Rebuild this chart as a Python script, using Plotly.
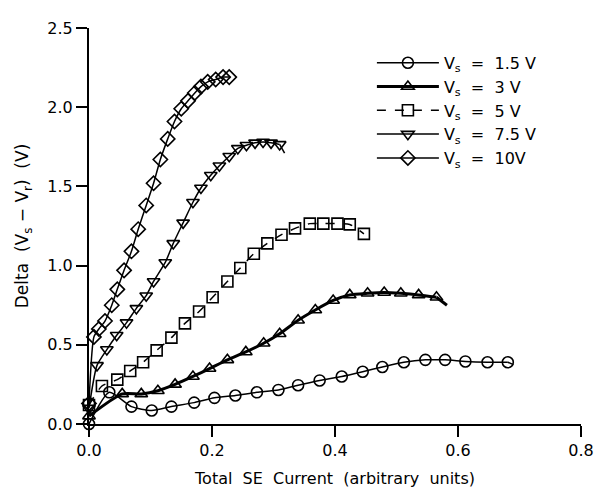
import plotly.graph_objects as go

# Vs = 1.5 V (circles)
x_15 = [0.0, 0.033, 0.069, 0.102, 0.134, 0.171, 0.204, 0.238, 0.273, 0.308, 0.340, 0.375,
        0.411, 0.445, 0.477, 0.512, 0.547, 0.579, 0.612, 0.648, 0.681]
y_15 = [0.0, 0.20, 0.11, 0.085, 0.11, 0.135, 0.165, 0.18, 0.20, 0.215, 0.245, 0.275,
        0.30, 0.33, 0.36, 0.39, 0.405, 0.405, 0.395, 0.39, 0.39]
tail_15 = ([0.681, 0.69], [0.39, 0.375])

# Vs = 3 V (up triangles)
x_3 = [0.0, 0.054, 0.085, 0.112, 0.140, 0.169, 0.196, 0.225, 0.255, 0.284, 0.310, 0.340,
       0.368, 0.397, 0.424, 0.453, 0.480, 0.507, 0.536, 0.565]
y_3 = [0.05, 0.19, 0.19, 0.21, 0.25, 0.30, 0.35, 0.405, 0.455, 0.51, 0.57, 0.655,
       0.72, 0.78, 0.815, 0.825, 0.83, 0.825, 0.815, 0.80]
tail_3 = ([0.565, 0.582], [0.80, 0.75])

# Vs = 5 V (squares)
x_5 = [0.0, 0.021, 0.046, 0.067, 0.088, 0.110, 0.134, 0.156, 0.179, 0.201, 0.225, 0.246,
       0.268, 0.290, 0.313, 0.335, 0.359, 0.381, 0.404, 0.424, 0.447]
y_5 = [0.12, 0.24, 0.28, 0.335, 0.39, 0.465, 0.545, 0.635, 0.71, 0.80, 0.90, 0.985,
       1.075, 1.14, 1.195, 1.235, 1.265, 1.265, 1.265, 1.26, 1.20]

# Vs = 7.5 V (down triangles)
x_75 = [0.0, 0.013, 0.029, 0.045, 0.061, 0.077, 0.093, 0.105, 0.124, 0.137, 0.153, 0.169,
        0.182, 0.198, 0.212, 0.228, 0.242, 0.256, 0.270, 0.283, 0.296, 0.310]
y_75 = [0.10, 0.37, 0.47, 0.56, 0.64, 0.73, 0.81, 0.90, 1.02, 1.14, 1.27, 1.40,
        1.49, 1.57, 1.63, 1.69, 1.74, 1.76, 1.775, 1.78, 1.775, 1.765]
tail_75 = ([0.310, 0.318], [1.765, 1.71])

# Vs = 10 V (diamonds)
x_10 = [0.0, 0.008, 0.016, 0.026, 0.037, 0.046, 0.057, 0.069, 0.080, 0.093, 0.105, 0.116,
        0.128, 0.139, 0.150, 0.161, 0.172, 0.182, 0.193, 0.206, 0.218, 0.228]
y_10 = [0.13, 0.55, 0.60, 0.65, 0.75, 0.85, 0.97, 1.09, 1.23, 1.38, 1.52, 1.67,
        1.80, 1.91, 1.99, 2.04, 2.09, 2.13, 2.16, 2.175, 2.19, 2.19]

labels = ["V<sub>s</sub>  =  1.5 V", "V<sub>s</sub>  =  3 V", "V<sub>s</sub>  =  5 V",
          "V<sub>s</sub>  =  7.5 V", "V<sub>s</sub>  =  10V"]

x_ticks = [0.0, 0.2, 0.4, 0.6, 0.8]
y_ticks = [0.0, 0.5, 1.0, 1.5, 2.0, 2.5]

FONT = "DejaVu Sans"
fig = go.Figure()

series = [
    (x_15, y_15, "circle-open", 1.5, "solid", tail_15),
    (x_3, y_3, "triangle-up-open", 3.0, "solid", tail_3),
    (x_5, y_5, "square-open", 1.5, "dash", None),
    (x_75, y_75, "triangle-down-open", 1.5, "solid", tail_75),
    (x_10, y_10, "diamond-open", 1.5, "solid", None),
]

for (xs, ys, sym, lw, dash, tail), name in zip(series, labels):
    fig.add_trace(go.Scatter(
        x=xs, y=ys, name=name, mode="lines+markers",
        line=dict(color="black", width=lw, dash=dash, shape="spline", smoothing=0.6),
        marker=dict(symbol=sym, size=11, color="black", line=dict(width=1.6, color="black")),
        cliponaxis=False,
    ))
    if tail is not None:
        fig.add_trace(go.Scatter(
            x=tail[0], y=tail[1], mode="lines", showlegend=False, hoverinfo="skip",
            line=dict(color="black", width=lw), cliponaxis=False,
        ))

fig.update_layout(
    width=606, height=498,
    margin=dict(l=89, r=14, t=28, b=74),
    paper_bgcolor="white", plot_bgcolor="white",
    font=dict(family=FONT, size=16, color="black"),
    showlegend=True,
    legend=dict(x=0.575, y=0.955, xanchor="left", yanchor="top",
                bgcolor="rgba(0,0,0,0)", itemwidth=62, tracegroupgap=0,
                font=dict(family=FONT, size=16, color="black")),
)

fig.update_xaxes(
    range=[0, 0.8], tickvals=x_ticks, tickformat=".1f",
    showgrid=False, zeroline=False, showline=True, linecolor="black", linewidth=2,
    ticks="outside", ticklen=11, tickwidth=2, tickcolor="black",
    tickfont=dict(family=FONT, size=16),
    title=dict(text="Total\u00a0 SE\u00a0 Current\u00a0 (arbitrary\u00a0 units)",
               font=dict(family=FONT, size=16), standoff=14),
)
fig.update_yaxes(
    range=[0, 2.5], tickvals=y_ticks, tickformat=".1f",
    showgrid=False, zeroline=False, showline=True, linecolor="black", linewidth=2,
    ticks="outside", ticklen=11, tickwidth=2, tickcolor="black",
    tickfont=dict(family=FONT, size=16),
    title=dict(text="Delta\u00a0 (V<sub>s</sub> \u2212 V<sub>r</sub>)\u00a0 (V)",
               font=dict(family=FONT, size=17), standoff=14),
)

fig.write_html("out.html")
